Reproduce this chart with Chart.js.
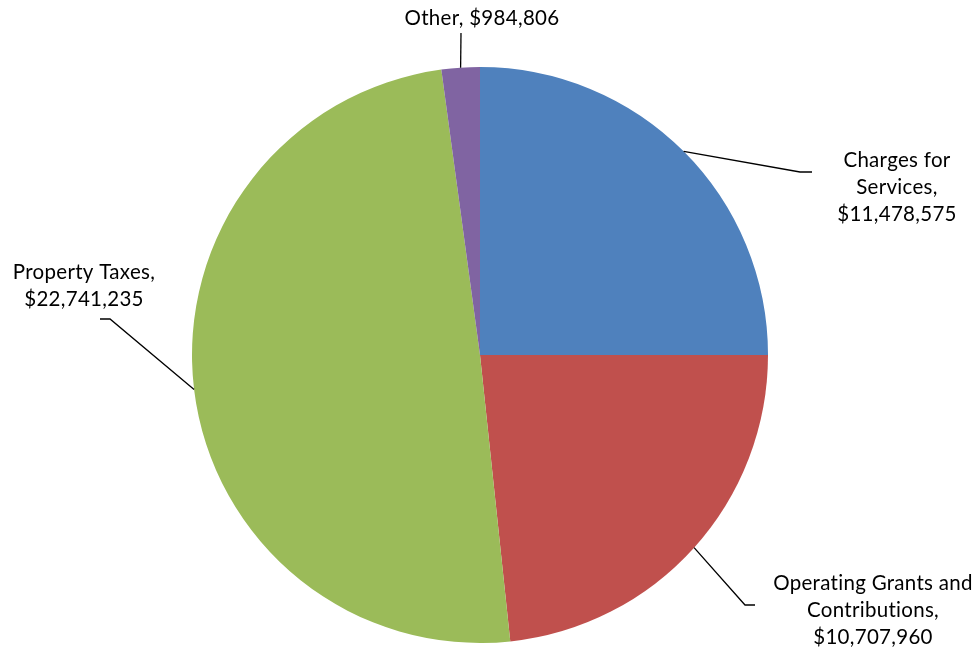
<!DOCTYPE html>
<html>
<head>
<meta charset="utf-8">
<script src="https://cdn.jsdelivr.net/npm/chart.js@4"></script>
<style>
html,body{margin:0;padding:0;background:#fff;}
#wrap{width:980px;height:653px;position:relative;}
</style>
</head>
<body>
<div id="wrap"><canvas id="c"></canvas></div>
<script>
const categories = ["Charges for Services", "Operating Grants and Contributions", "Property Taxes", "Other"];
const values = [11478575, 10707960, 22741235, 984806];
const colors = ["#4F81BD", "#C0504D", "#9BBB59", "#8064A2"];
const labelLines = [
  ["Charges for", "Services,", "$11,478,575"],
  ["Operating Grants and", "Contributions,", "$10,707,960"],
  ["Property Taxes,", "$22,741,235"],
  ["Other, $984,806"]
];
// label layout: text centre x, first line centre y, leader elbow points
const labelLayout = [
  {tx: 897, ty: 160, elbow: [800, 172], end: [812, 172]},
  {tx: 873, ty: 583, elbow: [745, 605], end: [755, 605]},
  {tx: 84, ty: 272, elbow: [110, 319], end: [100, 319]},
  {tx: 482, ty: 18, elbow: null, end: [461, 33]}
];
const FONT = '20.5px "Lato", "Open Sans", sans-serif';
const LINE_H = 27;

const labelPlugin = {
  id: 'labels',
  afterDatasetsDraw(chart) {
    const ctx = chart.ctx;
    const meta = chart.getDatasetMeta(0);
    ctx.save();
    ctx.strokeStyle = '#000';
    ctx.lineWidth = 1.3;
    ctx.fillStyle = '#000';
    ctx.font = FONT;
    try { ctx.letterSpacing = '0.3px'; } catch (e) {}
    ctx.textAlign = 'center';
    ctx.textBaseline = 'middle';
    meta.data.forEach((arc, i) => {
      const mid = (arc.startAngle + arc.endAngle) / 2;
      const ax = arc.x + Math.cos(mid) * arc.outerRadius;
      const ay = arc.y + Math.sin(mid) * arc.outerRadius;
      const L = labelLayout[i];
      ctx.beginPath();
      ctx.moveTo(ax, ay);
      if (L.elbow) ctx.lineTo(L.elbow[0], L.elbow[1]);
      ctx.lineTo(L.end[0], L.end[1]);
      ctx.stroke();
      labelLines[i].forEach((t, k) => {
        ctx.fillText(t, L.tx, L.ty + k * LINE_H);
      });
    });
    ctx.restore();
  }
};

new Chart(document.getElementById('c'), {
  type: 'pie',
  data: {
    labels: categories,
    datasets: [{
      data: values,
      backgroundColor: colors,
      borderWidth: 0
    }]
  },
  options: {
    responsive: true,
    maintainAspectRatio: false,
    animation: false,
    layout: {padding: {top: 67, bottom: 10, left: 192, right: 212}},
    plugins: {legend: {display: false}, tooltip: {enabled: false}}
  },
  plugins: [labelPlugin]
});
</script>
</body>
</html>
